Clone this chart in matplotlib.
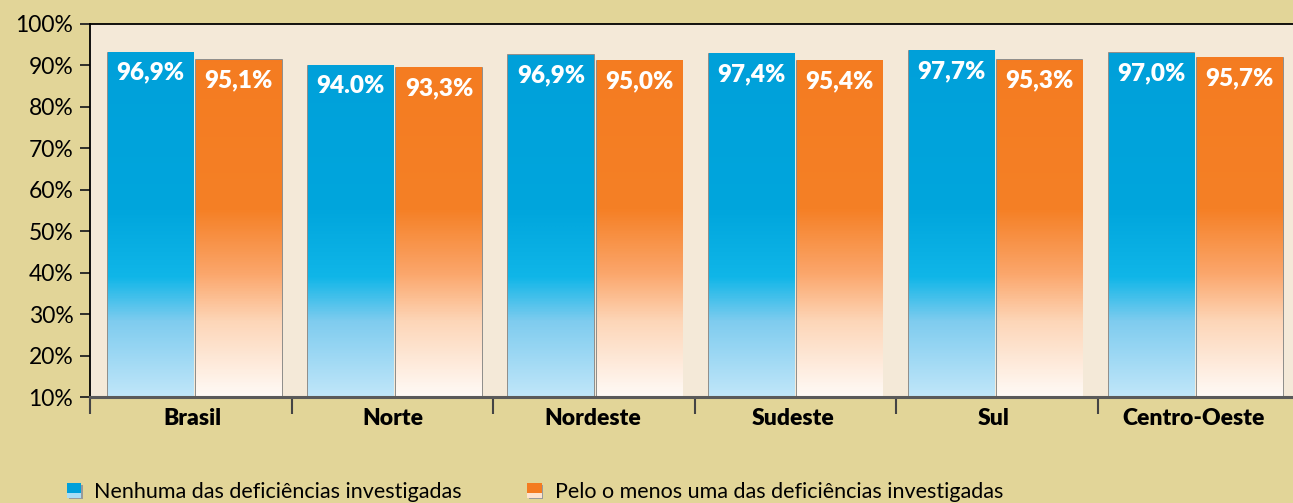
import numpy as np
import matplotlib.pyplot as plt
from matplotlib.colors import LinearSegmentedColormap
from matplotlib.patches import Rectangle
from matplotlib.legend_handler import HandlerBase

plt.rcParams['font.family'] = ['Lato', 'DejaVu Sans']

regions = ['Brasil', 'Norte', 'Nordeste', 'Sudeste', 'Sul', 'Centro-Oeste']
# bar heights as drawn in the picture (%), and the printed labels
nenhuma = [93.1, 89.9, 92.5, 92.8, 93.5, 92.9]
pelo_menos = [91.3, 89.4, 91.1, 91.1, 91.3, 91.8]
nenhuma_lbl = ['96,9%', '94.0%', '96,9%', '97,4%', '97,7%', '97,0%']
pelo_menos_lbl = ['95,1%', '93,3%', '95,0%', '95,4%', '95,3%', '95,7%']
series_names = ['Nenhuma das deficiências investigadas',
                'Pelo o menos uma das deficiências investigadas']

bg = '#E2D598'
panel = '#F4E9D8'
blue_cm = LinearSegmentedColormap.from_list('b', [(0, '#C0E6F9'), (0.2, '#7FCCEF'), (0.32, '#10B6E8'),
                                                  (0.5, '#00A6DD'), (1, '#009FD9')])
orange_cm = LinearSegmentedColormap.from_list('o', [(0, '#FFFAF6'), (0.2, '#FDD6B8'), (0.33, '#FBA66B'),
                                                    (0.5, '#F58026'), (1, '#F47B20')])

fig = plt.figure(figsize=(12.93, 5.03), dpi=100, facecolor=bg)
ax = fig.add_axes([0.0696, 0.2107, 0.9304, 0.7416])
ax.set_facecolor(panel)

ymin, ymax = 10, 100
x = np.arange(len(regions)) * 0.9935 + 0.52
w = 0.423
off = 0.219


def grad_bar(xc, h, cmap):
    r = Rectangle((xc - w / 2, ymin), w, h - ymin, facecolor='none',
                  edgecolor='#7d7d7d', lw=1.2, zorder=2)
    ax.add_patch(r)
    ys = np.linspace(ymax, ymin, 400)
    ys = ys[ys <= h]
    img = cmap((ys - ymin) / (ymax - ymin))[:, None, :]
    ax.imshow(img, extent=(xc - w / 2, xc + w / 2, ymin, h), aspect='auto',
              interpolation='bilinear', zorder=3)


for i in range(len(regions)):
    for xc, h, lbl, cm in [(x[i] - off, nenhuma[i], nenhuma_lbl[i], blue_cm),
                           (x[i] + off, pelo_menos[i], pelo_menos_lbl[i], orange_cm)]:
        grad_bar(xc, h, cm)
        ax.annotate(lbl, (xc, h), xytext=(0, -14.5), textcoords='offset points',
                    ha='center', va='center', color='white', fontsize=17.5,
                    fontweight='heavy', zorder=5)

ax.set_xlim(0, 5.97)
ax.set_ylim(ymin, ymax)
ax.set_yticks(np.arange(10, 101, 10))
ax.set_yticklabels([f'{v}%' for v in range(10, 101, 10)], fontsize=16.5)
ax.tick_params(axis='y', length=7, width=1.3, color='#222222', pad=5)

ax.set_xticks(x - 0.01)
ax.set_xticklabels(regions, fontsize=16.5, fontweight='heavy')
ax.set_xticks(np.arange(0, 6), minor=True)
ax.tick_params(axis='x', which='major', length=0, pad=8)
ax.tick_params(axis='x', which='minor', length=12, width=1.5, color='#444444')

ax.spines['right'].set_visible(False)
ax.spines['top'].set_linewidth(1.3)
ax.spines['left'].set_linewidth(1.3)
ax.spines['left'].set_bounds(ymin, ymax)
ax.spines['bottom'].set_color('#5a5a5a')
ax.spines['bottom'].set_linewidth(2.2)
for sp in ax.spines.values():
    sp.set_zorder(6)


class GradHandler(HandlerBase):
    def __init__(self, top, bottom):
        super().__init__()
        self.top, self.bottom = top, bottom

    def create_artists(self, legend, orig_handle, xd, yd, width, height, fontsize, trans):
        s = height * 0.95
        x0 = xd + width - s
        a = Rectangle((x0 + 1.2, yd - 1.2), s, s, facecolor='#9a9a9a', edgecolor='none', transform=trans)
        b = Rectangle((x0, yd + s * 0.35), s, s * 0.65, facecolor=self.top, edgecolor='none', transform=trans)
        c = Rectangle((x0, yd), s, s * 0.35, facecolor=self.bottom, edgecolor='none', transform=trans)
        return [a, b, c]


h1, h2 = object(), object()
leg = fig.legend([h1, h2], series_names, loc='lower left', bbox_to_anchor=(0.033, -0.036),
                 ncol=2, frameon=False, fontsize=15.5, columnspacing=2.8, handlelength=0.9,
                 handletextpad=0.6,
                 handler_map={h1: GradHandler('#00A0DA', '#A9DDF5'),
                              h2: GradHandler('#F47B20', '#FEE3CE')})

fig.savefig('out.png', dpi=100, facecolor=bg)
